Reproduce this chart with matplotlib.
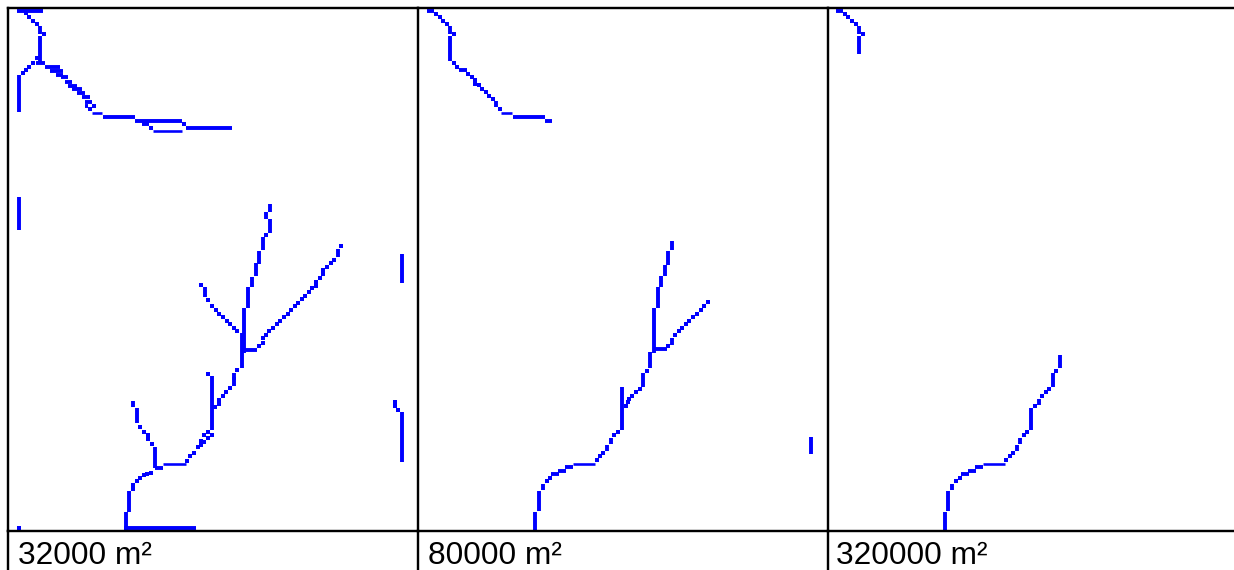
import matplotlib
matplotlib.use("Agg")
import matplotlib.pyplot as plt

plt.rcParams['font.family'] = ['Liberation Sans', 'DejaVu Sans']

# all coordinates are map cells, in image pixels
labels = ["32000 m²", "80000 m²", "320000 m²"]
label_x = [18, 428, 836]

# vertical runs (x, y0, y1), horizontal runs (y, x0, x1), thin horizontals, single cells
p1_vert = [(19, 75, 112), (40, 36, 63), (19, 197, 230), (270, 204, 212), (266, 212, 219),
           (270, 219, 233), (263, 237, 250), (259, 251, 264), (256, 263, 276), (252, 277, 287),
           (248, 287, 308), (244, 308, 353), (242, 333, 368), (234, 373, 380), (212, 376, 430),
           (234, 377, 386), (155, 447, 468), (137, 408, 423), (133, 401, 407), (129, 491, 512),
           (126, 512, 530), (402, 412, 462), (402, 254, 283), (40, 26, 34), (205, 287, 297),
           (338, 249, 257)]
p1_horiz = [(10.5, 17, 43), (62.7, 36, 45), (66.7, 45, 60), (70.6, 50, 63), (74.7, 56, 63),
            (77, 61, 68), (82, 65, 72), (86, 68, 77), (89, 72, 82), (93, 77, 85), (97, 82, 90),
            (102, 85, 92), (106, 85, 88), (117, 103, 135), (121, 135, 182), (124, 142, 149),
            (128, 186, 232), (350, 245, 257), (528, 124, 196), (468, 155, 163)]
p1_thin = [(113, 92, 102), (131, 153, 182), (464, 163, 186)]
p1_cells = [(26, 13), (29, 17), (33, 21), (37, 24), (44, 34), (37, 58), (33, 63), (29, 67),
            (26, 70), (23, 73), (94, 106), (90, 109), (151, 128), (184, 124), (266, 235),
            (201, 285), (208, 300), (212, 306), (216, 310), (219, 314), (223, 317), (227, 321),
            (230, 324), (234, 328), (237, 331), (259, 346), (263, 338), (263, 343), (266, 335),
            (269, 331), (273, 328), (277, 324), (280, 321), (284, 317), (288, 314), (291, 310),
            (295, 306), (298, 303), (302, 299), (305, 296), (309, 292), (312, 288), (316, 282),
            (316, 286), (320, 278), (323, 270), (323, 274), (327, 267), (331, 263), (334, 260),
            (341, 246), (237, 370), (208, 374), (230, 388), (226, 392), (223, 396), (219, 400),
            (219, 404), (215, 407), (208, 432), (212, 435), (204, 435), (208, 438), (201, 441),
            (204, 442), (198, 447), (201, 445), (194, 453), (190, 456), (187, 461), (152, 444),
            (148, 435), (148, 439), (144, 432), (140, 427), (151, 473), (147, 474), (144, 475),
            (140, 478), (137, 481), (133, 485), (133, 489), (19, 528), (395, 402), (395, 406),
            (398, 410)]

p2_vert = [(450, 26, 34), (450, 36, 61), (672, 241, 250), (668, 251, 265), (665, 265, 276),
           (661, 276, 287), (658, 287, 308), (654, 308, 353), (650, 352, 368), (643, 373, 387),
           (622, 387, 430), (539, 491, 511), (535, 512, 530), (811, 437, 454), (496, 101, 107),
           (672, 338, 345), (607, 445, 451), (611, 438, 444), (543, 484, 490)]
p2_horiz = [(10.5, 427, 434), (70, 459, 467), (117, 513, 545), (121, 545, 552), (349, 655, 667),
            (467, 565, 573), (471, 558, 566), (474, 551, 559)]
p2_thin = [(113, 501, 512), (464, 573, 595)]
p2_cells = [(436, 14), (440, 17), (443, 21), (447, 24), (454, 34), (454, 63), (457, 67),
            (468, 74), (472, 77), (475, 80), (475, 84), (479, 85), (482, 89), (486, 92), (489, 96),
            (493, 99), (500, 109), (668, 346), (675, 335), (679, 331), (682, 328), (686, 324),
            (689, 321), (693, 317), (697, 314), (701, 310), (704, 306), (708, 302), (647, 371),
            (640, 389), (636, 392), (632, 396), (629, 399), (628, 402), (626, 406), (618, 432),
            (614, 435), (603, 453), (600, 456), (597, 460), (550, 478), (547, 481)]

p3_vert = [(859, 26, 34), (859, 36, 54), (1060, 355, 368), (1053, 373, 387), (1031, 408, 430),
           (948, 491, 511), (945, 512, 530), (1039, 399, 405), (1020, 438, 444), (1017, 445, 451),
           (952, 484, 490)]
p3_horiz = [(10.5, 836, 843), (467, 975, 983), (471, 968, 976), (474, 961, 969)]
p3_thin = [(464, 983, 1005)]
p3_cells = [(845, 14), (848, 17), (852, 21), (856, 24), (863, 34), (1056, 371), (1049, 389),
            (1046, 392), (1042, 396), (1035, 406), (1027, 432), (1024, 435), (1013, 453),
            (1010, 456), (1006, 460), (960, 478), (956, 481)]

W, H = 1234, 570
panels = [(8, 418, p1_vert, p1_horiz, p1_thin, p1_cells),
          (418, 828, p2_vert, p2_horiz, p2_thin, p2_cells),
          (828, 1234, p3_vert, p3_horiz, p3_thin, p3_cells)]
blue = "#0000ff"
px = 0.72  # one pixel in points at dpi 100

fig = plt.figure(figsize=(W / 100, H / 100), dpi=100)

for (x0, x1, vert, horiz, thin, cells), label, lx in zip(panels, labels, label_x):
    ax = fig.add_axes([x0 / W, 1 - 531 / H, (x1 - x0) / W, (531 - 8) / H])
    ax.set_xlim(x0, x1)
    ax.set_ylim(531, 8)
    ax.set_xticks([])
    ax.set_yticks([])
    for s in ax.spines.values():
        s.set_linewidth(2.4 * px)
    ax.spines['right'].set_visible(False)
    for x, y0, y1 in vert:
        ax.plot([x, x], [y0, y1], color=blue, lw=3.9 * px, solid_capstyle='butt')
    for y, a, b in horiz:
        ax.plot([a, b], [y, y], color=blue, lw=3.9 * px, solid_capstyle='butt')
    for y, a, b in thin:
        ax.plot([a, b], [y, y], color=blue, lw=2.6 * px, solid_capstyle='butt')
    ax.scatter([c[0] for c in cells], [c[1] for c in cells], s=(4.0 * px) ** 2,
               marker='s', color=blue, linewidths=0)
    fig.text(lx / W, 1 - 564 / H, label, fontsize=22.8, color="black", va='baseline')
    # cell dividers run on into the label row
    fig.add_artist(plt.Line2D([x0 / W, x0 / W], [0, 1 - 531 / H], color="black", lw=2.4 * px))

fig.savefig("out.png", dpi=100)
